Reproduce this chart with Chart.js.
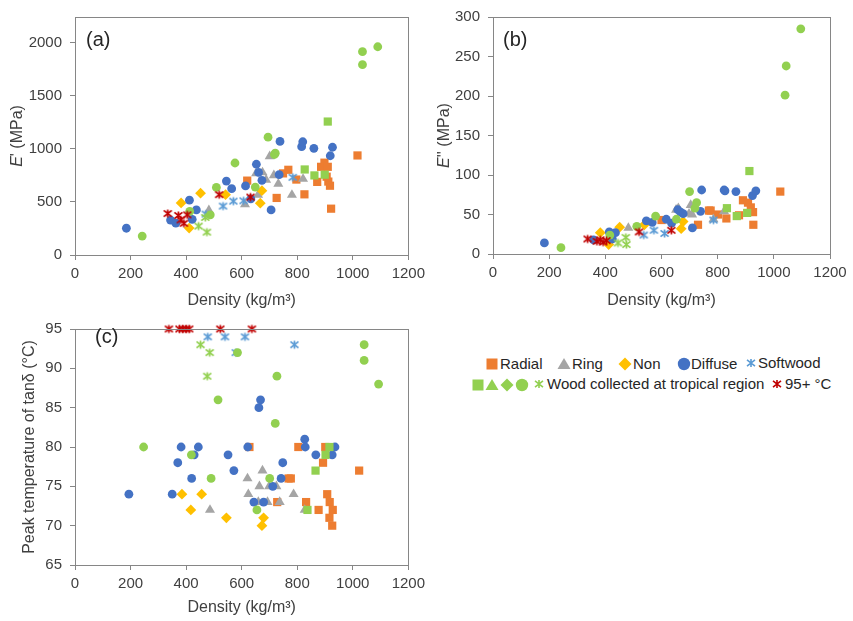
<!DOCTYPE html>
<html>
<head>
<meta charset="utf-8">
<script src="https://cdn.jsdelivr.net/npm/chart.js@4"></script>
<style>
  body { margin: 0; background: #fff; font-family: "Liberation Sans", Arial, sans-serif; }
  #page { position: relative; width: 853px; height: 621px; overflow: hidden; }
  canvas { position: absolute; }
  .lg { position: absolute; font-size: 15px; color: #262626; line-height: 18px; white-space: nowrap; }
  .mk { position: absolute; }
</style>
</head>
<body>
<div id="page">
  <canvas id="chartA" width="430" height="312" style="left:0;top:0"></canvas>
  <canvas id="chartB" width="423" height="312" style="left:430px;top:0"></canvas>
  <canvas id="chartC" width="430" height="309" style="left:0;top:312px"></canvas>
  <div id="legend"></div>
</div>
<script>
// 数据  [density, value]
// (a) E' (MPa)
const radialA = [[620,700],[726,537],[749,768],[768,802],[797,710],[826,571],[872,688],[886,830],[898,869],[910,830],[906,737],[912,691],[918,652],[922,436],[1017,937]];
const ringA = [[482,421],[612,476],[659,565],[652,768],[675,777],[688,707],[701,928],[716,749],[732,670],[781,565],[821,716]];
const nonA = [[382,490],[452,582],[411,253],[542,568],[673,605],[667,488]];
const diffuseA = [[185,252],[344,329],[363,300],[412,516],[422,336],[437,424],[545,696],[564,624],[614,650],[633,528],[653,854],[661,777],[673,703],[706,424],[735,756],[738,1069],[816,1020],[820,1066],[860,1004],[919,934],[927,1014]];
const softA = [[471,385],[533,460],[570,507],[607,510],[784,731]];
const tropSquareA = [[827,805],[862,749],[899,756],[910,1256]];
const tropCircleA = [[242,178],[413,410],[487,378],[509,636],[576,866],[649,639],[695,1109],[718,946],[721,958],[1035,1791],[1035,1914],[1090,1960]];
const tropStarA = [[445,272],[475,215],[469,353]];
const hotA = [[334,390],[372,372],[381,330],[392,298],[404,378],[519,568],[632,545]];

// (b) E'' (MPa)
const radialB = [[600,43],[730,37],[769,55],[775,55],[801,50],[831,45],[876,49],[890,68],[908,65],[918,59],[926,53],[927,37],[1023,79]];
const ringB = [[482,33],[652,56],[660,58],[704,62],[698,51],[709,50],[823,54],[785,44]];
const nonB = [[382,27],[451,34],[412,12],[539,37],[677,41],[670,32]];
const diffuseB = [[183,14],[358,18],[414,28],[425,19],[436,27],[546,42],[567,40],[617,44],[636,39],[658,56],[668,53],[677,51],[710,33],[739,54],[743,81],[823,81],[826,80],[865,79],[924,74],[936,80]];
const softB = [[537,24],[573,30],[611,26],[785,43]];
const tropSquareB = [[833,58],[868,48],[905,52],[913,105]];
const tropCircleB = [[242,8],[416,24],[512,35],[579,48],[653,44],[700,79],[719,58],[725,65],[1040,201],[1044,238],[1096,285]];
const tropStarB = [[445,14],[473,21],[475,12]];
const hotB = [[337,19],[370,16],[382,18],[392,15],[404,17],[520,28],[635,30]];

// (c) Peak temperature of tanδ (°C)
const radialC = [[628,80],[728,73],[769,76],[777,76],[804,80],[832,73],[877,72],[893,78],[901,80],[908,74],[916,71],[917,73],[926,70],[928,72],[1023,77]];
const ringC = [[486,72],[621,76],[624,74],[660,73],[664,75],[675,77],[693,73],[699,75],[725,75],[737,73],[787,74],[827,72]];
const nonC = [[385,74],[456,74],[417,72],[545,71],[679,71],[673,70]];
const diffuseC = [[194,74],[350,74],[370,78],[382,80],[420,76],[429,79],[444,80],[551,79],[572,77],[622,80],[644,73],[662,85],[668,86],[679,73],[712,75],[742,76],[748,78],[827,81],[829,80],[867,79],[926,79],[936,80]];
const softC = [[478,94],[540,94],[579,92],[612,94],[790,93]];
const tropSquareC = [[837,72],[866,77],[902,79],[916,80]];
const tropCircleC = [[247,80],[419,79],[490,76],[515,86],[585,92],[655,72],[701,76],[721,83],[727,89],[1041,91],[1041,93],[1093,88]];
const tropStarC = [[452,93],[485,92],[476,89]];
const hotC = [[338,95],[376,95],[388,95],[400,95],[411,95],[523,95],[637,95]];

const xTicks = [0, 200, 400, 600, 800, 1000, 1200];
const yTicksA = [0, 500, 1000, 1500, 2000];
const yTicksB = [0, 50, 100, 150, 200, 250, 300];
const yTicksC = [65, 70, 75, 80, 85, 90, 95];

const ORANGE = '#ED7D31', GRAY = '#A5A5A5', YELLOW = '#FFC000', BLUE = '#4472C4',
      SOFT = '#5B9BD5', GREEN = '#92D050', RED = '#C00000';
const AXIS = '#868686', TXT = '#404040';
const FONT = '"Liberation Sans", Arial, sans-serif';

// 星号标记
function starImg(color) {
  const s = 11, c = document.createElement('canvas');
  c.width = s; c.height = s;
  const g = c.getContext('2d');
  g.strokeStyle = color; g.lineWidth = 1.7;
  const m = s / 2, r = 4;
  g.beginPath();
  g.moveTo(m - r, m - r * 0.8); g.lineTo(m + r, m + r * 0.8);
  g.moveTo(m + r, m - r * 0.8); g.lineTo(m - r, m + r * 0.8);
  g.moveTo(m, m - r); g.lineTo(m, m + r);
  g.stroke();
  return c;
}

function ds(data, style, color, r) {
  return {
    data: data.map(([x, y]) => ({ x, y })),
    pointStyle: style, pointRadius: r, pointHoverRadius: r,
    backgroundColor: color, borderColor: color, borderWidth: 0,
    showLine: false, clip: false
  };
}

function seriesSet(radial, ring, non, diffuse, soft, tSq, tCi, tSt, hot) {
  // 底 -> 顶
  const list = [
    ds(radial, 'rect', ORANGE, 5.8),
    ds(ring, 'triangle', GRAY, 5.8),
    ds(non, 'rectRot', YELLOW, 5.4),
    ds(diffuse, 'circle', BLUE, 4.4),
    ds(soft, starImg(SOFT), SOFT, 5),
    ds(tSq, 'rect', GREEN, 5.8),
    ds(tCi, 'circle', GREEN, 4.4),
    ds(tSt, starImg(GREEN), GREEN, 5),
    ds(hot, starImg(RED), RED, 5)
  ];
  list.forEach((d, i) => d.order = list.length - i);
  return list;
}

// 文字/边框插件
function deco(cfg) {
  return {
    id: 'deco',
    afterDraw(chart) {
      const ctx = chart.ctx, a = chart.chartArea;
      ctx.save();
      ctx.strokeStyle = AXIS; ctx.lineWidth = 1;
      ctx.strokeRect(Math.round(a.left) + 0.5, Math.round(a.top) + 0.5,
                     Math.round(a.right - a.left), Math.round(a.bottom - a.top));
      ctx.fillStyle = '#262626';
      ctx.font = '20px ' + FONT;
      ctx.textBaseline = 'middle';
      ctx.fillText(cfg.label, cfg.lx, cfg.ly);
      // x title
      ctx.fillStyle = '#404040';
      ctx.font = '16px ' + FONT;
      ctx.textAlign = 'center';
      ctx.fillText('Density (kg/m³)', (a.left + a.right) / 2, cfg.xty);
      // y title (旋转, 混合字体)
      ctx.translate(cfg.ytx, (a.top + a.bottom) / 2);
      ctx.rotate(-Math.PI / 2);
      ctx.textAlign = 'left';
      let w = 0;
      cfg.yt.forEach(s => { ctx.font = (s.i ? 'italic ' : '') + '16px ' + FONT; s.w = ctx.measureText(s.t).width; w += s.w; });
      let x = -w / 2;
      cfg.yt.forEach(s => { ctx.font = (s.i ? 'italic ' : '') + '16px ' + FONT; ctx.fillText(s.t, x, 0); x += s.w; });
      ctx.restore();
    }
  };
}

function makeChart(id, datasets, y, pad, xh, yw, cfg) {
  return new Chart(document.getElementById(id).getContext('2d'), {
    type: 'scatter',
    data: { datasets },
    options: {
      responsive: false, animation: false, devicePixelRatio: 1,
      layout: { padding: pad },
      plugins: { legend: { display: false }, tooltip: { enabled: false } },
      scales: {
        x: {
          type: 'linear', min: 0, max: 1200,
          afterBuildTicks: s => { s.ticks = xTicks.map(v => ({ value: v })); },
          afterFit: s => { s.height = xh; },
          grid: { drawOnChartArea: false, color: AXIS, tickLength: 5 },
          border: { color: AXIS },
          ticks: { color: TXT, font: { size: 15, family: FONT }, padding: 5, maxRotation: 0, callback: v => String(v) }
        },
        y: {
          type: 'linear', min: y.min, max: y.max,
          afterBuildTicks: s => { s.ticks = y.ticks.map(v => ({ value: v })); },
          afterFit: s => { s.width = yw; },
          grid: { drawOnChartArea: false, color: AXIS, tickLength: 5 },
          border: { color: AXIS },
          ticks: { color: TXT, font: { size: 15, family: FONT }, padding: 8, callback: v => String(v) }
        }
      }
    },
    plugins: [deco(cfg)]
  });
}

makeChart('chartA',
  seriesSet(radialA, ringA, nonA, diffuseA, softA, tropSquareA, tropCircleA, tropStarA, hotA),
  { min: 0, max: 2240, ticks: yTicksA },
  { left: 0, top: 12, right: 17, bottom: 0 }, 57, 75,
  { label: '(a)', lx: 86, ly: 40, xty: 301, ytx: 18, yt: [{ t: 'E', i: true }, { t: "' (MPa)" }] });

makeChart('chartB',
  seriesSet(radialB, ringB, nonB, diffuseB, softB, tropSquareB, tropCircleB, tropStarB, hotB),
  { min: 0, max: 300, ticks: yTicksB },
  { left: 0, top: 13, right: 23, bottom: 0 }, 58, 63,
  { label: '(b)', lx: 73, ly: 40, xty: 301, ytx: 15, yt: [{ t: 'E', i: true }, { t: "'' (MPa)" }] });

makeChart('chartC',
  seriesSet(radialC, ringC, nonC, diffuseC, softC, tropSquareC, tropCircleC, tropStarC, hotC),
  { min: 65, max: 95, ticks: yTicksC },
  { left: 0, top: 13, right: 14, bottom: 0 }, 56, 75,
  { label: '(c)', lx: 95, ly: 25, xty: 296, ytx: 30, yt: [{ t: 'Peak temperature of tanδ (°C)' }] });

// 图例
const shapes = {
  sq: c => `<rect x="-5.5" y="-5.5" width="11" height="11" fill="${c}"/>`,
  tri: c => `<polygon points="0,-6 6.5,5 -6.5,5" fill="${c}"/>`,
  dia: c => `<polygon points="0,-6.5 6.5,0 0,6.5 -6.5,0" fill="${c}"/>`,
  ci: c => `<circle r="6.2" fill="${c}"/>`,
  st: c => `<path d="M-4,-3.2L4,3.2M4,-3.2L-4,3.2M0,-4L0,4" stroke="${c}" stroke-width="1.6" fill="none"/>`
};
const legendItems = [
  { s: 'sq', c: ORANGE, x: 492, y: 364, t: 'Radial', tx: 500 },
  { s: 'tri', c: GRAY, x: 564, y: 364, t: 'Ring', tx: 572 },
  { s: 'dia', c: YELLOW, x: 625, y: 364, t: 'Non', tx: 633 },
  { s: 'ci', c: BLUE, x: 684, y: 364, t: 'Diffuse', tx: 691 },
  { s: 'st', c: SOFT, x: 751, y: 363, t: 'Softwood', tx: 758 },
  { s: 'sq', c: GREEN, x: 478, y: 385 },
  { s: 'tri', c: GREEN, x: 492, y: 385 },
  { s: 'dia', c: GREEN, x: 507, y: 385 },
  { s: 'ci', c: GREEN, x: 522, y: 385 },
  { s: 'st', c: GREEN, x: 539, y: 384, t: 'Wood collected at tropical region', tx: 547 },
  { s: 'st', c: RED, x: 777, y: 384, t: '95+ °C', tx: 785 }
];
const lg = document.getElementById('legend');
legendItems.forEach(it => {
  lg.insertAdjacentHTML('beforeend',
    `<svg class="mk" width="16" height="16" viewBox="0 0 16 16" style="left:${it.x - 8}px;top:${it.y - 8}px"><g transform="translate(8,8)">${shapes[it.s](it.c)}</g></svg>`);
  if (it.t) lg.insertAdjacentHTML('beforeend',
    `<div class="lg" style="left:${it.tx}px;top:${it.y - 9}px">${it.t}</div>`);
});
</script>
</body>
</html>
